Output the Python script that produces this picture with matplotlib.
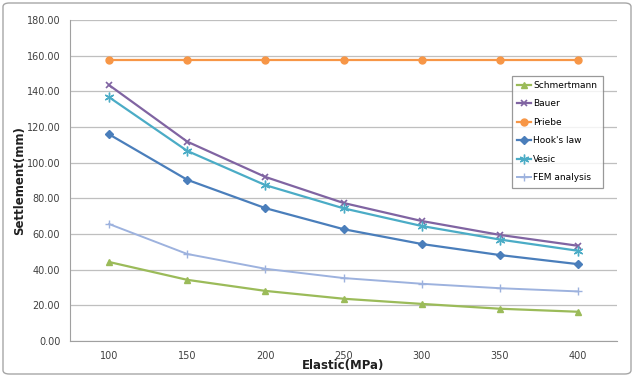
import matplotlib.pyplot as plt
from matplotlib.patches import FancyBboxPatch

# values
elastic = ["100", "150", "200", "250", "300", "350", "400"]
schmertmann = [44.3, 34.3, 28.1, 23.7, 20.8, 18.1, 16.4]
bauer = [143.5, 111.8, 92.0, 77.4, 67.3, 59.5, 53.4]
priebe = [157.6, 157.6, 157.6, 157.6, 157.6, 157.6, 157.6]
hooks_law = [115.9, 90.4, 74.5, 62.7, 54.4, 48.2, 43.1]
vesic = [136.7, 106.6, 87.4, 74.4, 64.5, 56.9, 50.6]
fem = [65.6, 48.8, 40.5, 35.3, 32.1, 29.6, 27.8]

fig = plt.figure(figsize=(6.34, 3.77), dpi=100)
ax = fig.add_axes([70 / 634, 1 - 341 / 377, 547 / 634, 321 / 377])

x = range(len(elastic))
ax.plot(x, schmertmann, color="#9BBB59", marker="^", markersize=5, lw=1.6, label="Schmertmann")
ax.plot(x, bauer, color="#8064A2", marker="x", markersize=5, mew=1.2, lw=1.6, label="Bauer")
ax.plot(x, priebe, color="#F79646", marker="o", markersize=5, lw=1.6, label="Priebe")
ax.plot(x, hooks_law, color="#4A7EBB", marker="D", markersize=4, lw=1.6, label="Hook's law")
ax.plot(x, vesic, color="#4BACC6", marker=(6, 2, 0), markersize=7, mew=1.0, lw=1.6, label="Vesic")
ax.plot(x, fem, color="#9DB2DE", marker="+", markersize=6, mew=1.0, lw=1.4, label="FEM analysis")

ax.set_xlim(-0.5, len(elastic) - 0.5)
ax.set_ylim(0, 180)
ax.set_xticks(list(x))
ax.set_xticklabels(elastic)
ax.set_yticks(range(0, 181, 20))
ax.set_yticklabels([f"{v:.2f}" for v in range(0, 181, 20)])
ax.tick_params(length=0, labelsize=7, colors="#404040", pad=7)
ax.yaxis.grid(True, color="#BFBFBF", lw=0.9)
ax.set_axisbelow(True)
for s in ["top", "right"]:
    ax.spines[s].set_visible(False)
ax.spines["left"].set_color("#A0A0A0")
ax.spines["bottom"].set_color("#A0A0A0")

ax.set_xlabel("Elastic(MPa)", fontsize=8.5, fontweight="bold", color="#202020", labelpad=-1)
ax.set_ylabel("Settlement(mm)", fontsize=8.5, fontweight="bold", color="#202020", labelpad=0)

leg = ax.legend(loc="upper left", bbox_to_anchor=(437 / 547, (341 - 71) / 321),
                fontsize=6.5, frameon=True, fancybox=False, handlelength=1.6,
                labelspacing=1.05, borderpad=0.6, handletextpad=0.2)
leg.get_frame().set_edgecolor("#808080")
leg.get_frame().set_linewidth(0.9)

border = FancyBboxPatch((3 / 634, 3 / 377), 628 / 634, 371 / 377,
                        boxstyle="round,pad=0,rounding_size=0.01",
                        transform=fig.transFigure, fill=False,
                        edgecolor="#A6A6A6", lw=1.0)
fig.patches.append(border)

fig.savefig("out.png", dpi=100)
plt.close(fig)
